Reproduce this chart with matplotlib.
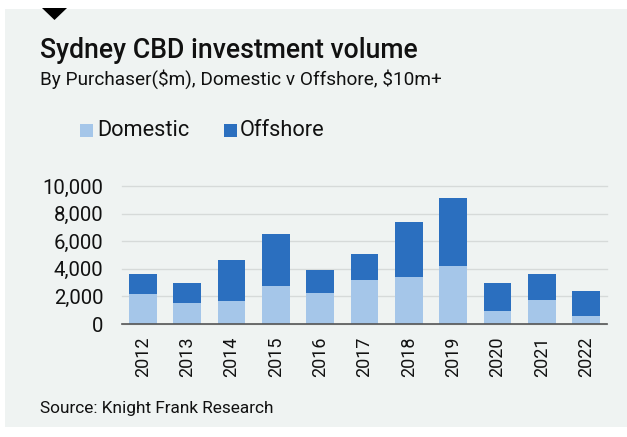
import matplotlib.pyplot as plt
from matplotlib.patches import Rectangle, Polygon
from matplotlib.ticker import FuncFormatter
import numpy as np

# values ($m)
years = ["2012", "2013", "2014", "2015", "2016", "2017",
         "2018", "2019", "2020", "2021", "2022"]
domestic = [2150, 1550, 1700, 2750, 2280, 3190, 3400, 4200, 960, 1770, 600]
total = [3600, 2950, 4630, 6520, 3890, 5080, 7410, 9110, 2950, 3600, 2400]
offshore = [t - d for t, d in zip(total, domestic)]

LIGHT = "#A5C6E9"
DARK = "#2B6FBF"
BG = "#EFF3F2"

plt.rcParams['font.family'] = ['Roboto', 'DejaVu Sans']

W, H = 627, 437
fig = plt.figure(figsize=(W / 100, H / 100), dpi=100)
fig.patch.set_facecolor("white")

def px(x, y):
    # pixel coords (top-left origin) -> figure fraction
    return x / W, 1 - y / H

# grey panel behind everything
x0, y0 = px(5, 427)
fig.patches.append(Rectangle((x0, y0), 1 - x0, (427 - 9) / H,
                             transform=fig.transFigure, facecolor=BG,
                             edgecolor="none", zorder=-10))
# little black marker at the top
fig.patches.append(Polygon([px(42, 8), px(67, 8), px(54.5, 20)], closed=True,
                           transform=fig.transFigure, facecolor="black",
                           edgecolor="none", zorder=-9))

left, right = 122 / W, 607 / W
bottom, top = 1 - 324 / H, 1 - 186 / H
ax = fig.add_axes([left, bottom, right - left, top - bottom])
ax.set_facecolor("none")
ax.set_zorder(5)

x = np.arange(len(years))
ax.bar(x, domestic, width=0.63, color=LIGHT, zorder=3, label="Domestic")
ax.bar(x, offshore, width=0.63, bottom=domestic, color=DARK, zorder=3,
       label="Offshore")

ax.set_xlim(-0.47, len(years) - 1 + 0.47)
ax.set_ylim(0, 10000)
ax.set_yticks(range(0, 10001, 2000))
ax.yaxis.set_major_formatter(FuncFormatter(lambda v, p: f"{int(v):,}"))
ax.grid(axis="y", color="#D6DAD9", linewidth=1.0, zorder=0)
for gl in ax.get_ygridlines():
    gl.set_clip_on(False)

for s in ["top", "right", "left"]:
    ax.spines[s].set_visible(False)
ax.spines["bottom"].set_color("#555555")
ax.spines["bottom"].set_linewidth(1.2)
ax.spines["bottom"].set_zorder(4)

ax.set_xticks(x)
ax.set_xticklabels(years, rotation=90, fontsize=13, color="#111111")
ax.tick_params(axis="x", length=0, pad=9)
ax.tick_params(axis="y", length=0, pad=13.5, labelsize=14.7, labelcolor="#111111")

fig.text(40 / W, 1 - 50 / H, "Sydney CBD investment volume", fontsize=19.2,
         fontweight="medium", va="center", ha="left", color="#111111")
fig.text(40 / W, 1 - 79 / H, r"By Purchaser(\$m), Domestic v Offshore, \$10m+",
         fontsize=13.7, va="center", ha="left", color="#111111")

# legend, drawn by hand to keep its spacing
fig.patches.append(Rectangle(px(80, 137), 13 / W, 13 / H,
                             transform=fig.transFigure, facecolor=LIGHT,
                             edgecolor="none"))
fig.text(97 / W, 1 - 131 / H, "Domestic", fontsize=15.7, va="center",
         ha="left", color="#111111")
fig.patches.append(Rectangle(px(224, 137), 13 / W, 13 / H,
                             transform=fig.transFigure, facecolor=DARK,
                             edgecolor="none"))
fig.text(240 / W, 1 - 131 / H, "Offshore", fontsize=15.7, va="center",
         ha="left", color="#111111")

fig.text(40 / W, 1 - 408 / H, "Source: Knight Frank Research", fontsize=12.4,
         va="center", ha="left", color="#111111")

fig.savefig("out.png", dpi=100, facecolor=fig.get_facecolor())
